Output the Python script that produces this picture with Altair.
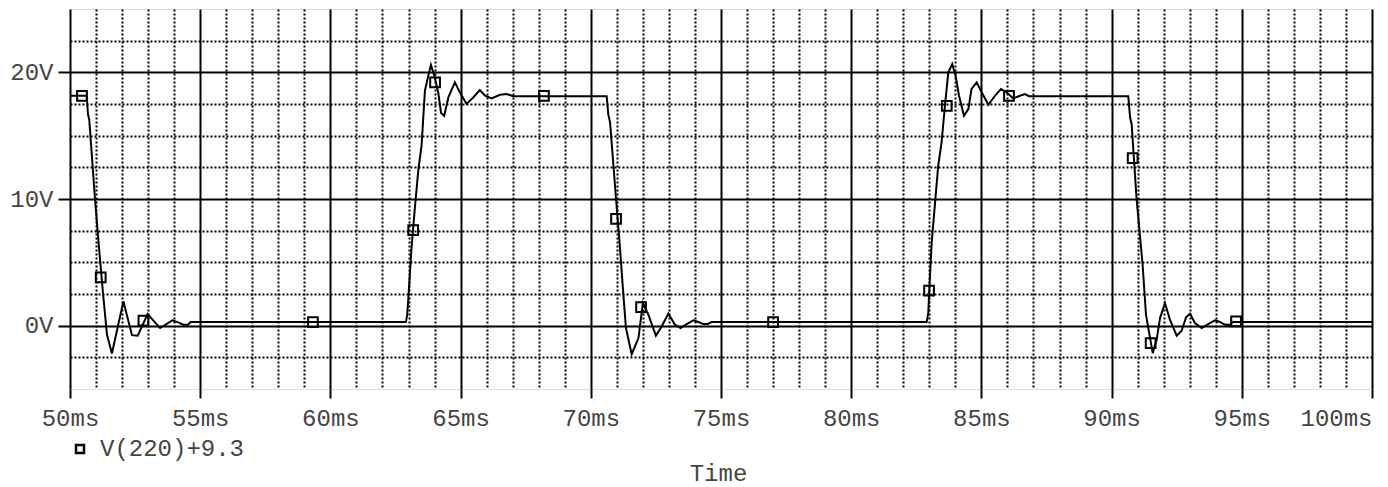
import altair as alt
import pandas as pd

# Waveform samples (ms, V)
time_ms = [
    50.0, 50.64, 50.69, 50.74, 50.96, 51.12, 51.27, 51.42, 51.61, 52.05, 52.38, 52.6,
    52.98, 53.46, 53.93, 54.16, 54.35, 54.54, 54.63,
    62.90, 62.95, 62.99, 63.11, 63.25, 63.38, 63.5, 63.63, 63.76, 63.86, 63.99, 64.14,
    64.25, 64.37, 64.53, 64.78, 64.97, 65.23, 65.49, 65.74, 65.94, 66.19, 66.51, 66.77,
    67.02,
    70.61, 70.67, 70.74, 70.97, 71.12, 71.25, 71.35, 71.57, 71.83, 72.0, 72.21, 72.5,
    72.72, 72.98, 73.23, 73.45, 73.68, 73.94, 74.13, 74.32, 74.49, 74.64,
    82.9, 82.96, 83.0, 83.09, 83.22, 83.34, 83.47, 83.6, 83.73, 83.88, 84.01, 84.14,
    84.33, 84.5, 84.62, 84.82, 85.01, 85.27, 85.52, 85.75, 85.97, 86.22, 86.48, 86.67,
    86.83,
    90.64, 90.71, 90.77, 90.96, 91.19, 91.32, 91.58, 91.73, 91.86, 92.05, 92.24, 92.5,
    92.69, 92.86, 93.01, 93.2, 93.46, 93.71, 93.97, 94.16, 94.35, 94.55, 94.65,
    100.0,
]
volts = [
    18.15, 18.15, 16.7, 16.25, 10.0, 6.0, 2.5, -0.7, -2.2, 1.92, -0.75, -0.79,
    0.92, -0.19, 0.42, 0.26, 0.08, 0.08, 0.28,
    0.28, 0.87, 2.06, 6.0, 9.45, 12.35, 14.2, 18.55, 19.74, 20.59, 19.74, 18.42,
    16.79, 16.57, 18.02, 19.21, 18.42, 17.5, 18.02, 18.6, 18.15, 17.94, 18.23, 18.29,
    18.12,
    18.12, 16.7, 16.04, 10.0, 6.14, 2.45, -0.19, -2.25, -0.98, 1.79, 0.87, -0.79,
    -0.06, 0.95, 0.08, -0.19, 0.13, 0.42, 0.29, 0.13, 0.13, 0.28,
    0.28, 1.0, 2.85, 6.54, 9.71, 12.6, 14.46, 17.36, 20.0, 20.66, 19.74, 18.15,
    16.57, 17.1, 18.69, 19.21, 18.42, 17.44, 18.15, 18.69, 18.42, 17.94, 18.15, 18.29,
    18.12,
    18.12, 16.43, 15.9, 10.0, 4.83, 0.87, -2.17, -1.1, 0.6, 1.79, 0.47, -0.79,
    -0.4, 0.66, 0.95, 0.21, -0.19, 0.13, 0.42, 0.29, 0.08, 0.08, 0.28,
    0.28,
]

# Marker positions
marker_time_ms = [50.46, 51.18, 52.82, 59.33, 63.18, 64.02, 68.2, 70.97, 71.93, 77.0,
                  82.99, 83.67, 86.06, 90.81, 91.5, 94.78]
marker_volts = [18.15, 3.82, 0.4, 0.28, 7.55, 19.21, 18.15, 8.44, 1.47, 0.28,
                2.77, 17.36, 18.15, 13.22, -1.38, 0.34]

series_name = "V(220)+9.3"

# Grid / tick values
x_tick_values = [50, 51, 52, 53, 54, 55, 56, 57, 58, 59, 60, 61, 62, 63, 64, 65, 66, 67,
                 68, 69, 70, 71, 72, 73, 74, 75, 76, 77, 78, 79, 80, 81, 82, 83, 84, 85,
                 86, 87, 88, 89, 90, 91, 92, 93, 94, 95, 96, 97, 98, 99, 100]
y_tick_values = [-2.5, 0, 2.5, 5, 7.5, 10, 12.5, 15, 17.5, 20, 22.5]

FONT = "Liberation Mono"
TXT = "#444444"

line_df = pd.DataFrame({"t": time_ms, "v": volts})
mark_df = pd.DataFrame({"t": marker_time_ms, "v": marker_volts,
                        "series": [series_name] * len(marker_time_ms)})

x_major = "datum.value % 5 === 0"
y_major = "datum.value % 10 === 0"

x_axis = alt.Axis(
    values=x_tick_values,
    tickCount=200,
    grid=True,
    gridColor="black",
    gridWidth=2,
    gridDash={"condition": {"test": x_major, "value": []}, "value": [2, 2]},
    ticks=True,
    tickColor="black",
    tickWidth=2,
    tickSize=9,
    tickOpacity={"condition": {"test": x_major, "value": 1}, "value": 0},
    labelExpr="datum.value % 5 === 0 ? datum.value + 'ms' : ''",
    labelAlign={"condition": {"test": "datum.value === 100", "value": "right"}, "value": "center"},
    labelFont=FONT,
    labelFontSize=24,
    labelColor=TXT,
    labelPadding=8,
    labelOverlap=False,
    labelFlush=False,
    domain=False,
    title="Time",
    titleFont=FONT,
    titleFontSize=24,
    titleFontWeight="normal",
    titleColor=TXT,
    titleBaseline="middle",
    titleX=648,
    titleY=84,
)

y_axis = alt.Axis(
    values=y_tick_values,
    tickCount=200,
    grid=True,
    gridColor="black",
    gridWidth=2,
    gridDash={"condition": {"test": y_major, "value": []}, "value": [2, 2]},
    ticks=True,
    tickColor="black",
    tickWidth=2,
    tickSize=12,
    tickOpacity={"condition": {"test": y_major, "value": 1}, "value": 0},
    labelExpr="datum.value % 10 === 0 ? datum.value + 'V' : ''",
    labelFont=FONT,
    labelFontSize=24,
    labelColor=TXT,
    labelPadding=5,
    labelOverlap=False,
    domain=False,
    title=None,
)

x_enc = alt.X("t:Q", scale=alt.Scale(domain=[50, 100], nice=False, zero=False), axis=x_axis)
y_enc = alt.Y("v:Q", scale=alt.Scale(domain=[-5, 25], nice=False, zero=False), axis=y_axis)

line = alt.Chart(line_df).mark_line(color="black", strokeWidth=2).encode(
    x=x_enc, y=y_enc
)

points = alt.Chart(mark_df).mark_point(
    shape="square", size=95, filled=False, strokeWidth=2, opacity=1
).encode(
    x=alt.X("t:Q", axis=x_axis),
    y=alt.Y("v:Q", axis=y_axis),
    color=alt.Color(
        "series:N",
        scale=alt.Scale(range=["black"]),
        legend=alt.Legend(
            orient="none",
            legendX=-2,
            legendY=428,
            title=None,
            symbolType="square",
            symbolSize=64,
            symbolStrokeWidth=2.5,
            symbolStrokeColor="black",
            symbolFillColor="white",
            labelFont=FONT,
            labelFontSize=24,
            labelColor=TXT,
            labelOffset=8,
            padding=0,
        ),
    ),
)

chart = alt.layer(line, points).properties(
    width=1302,
    height=380,
    autosize=alt.AutoSizeParams(type="none"),
    padding={"left": 62, "top": 1, "right": 8, "bottom": 98},
).configure_view(
    stroke="black", strokeWidth=2
).configure(background="white")

chart.save("out.html", embed_options={"renderer": "svg", "actions": False})
